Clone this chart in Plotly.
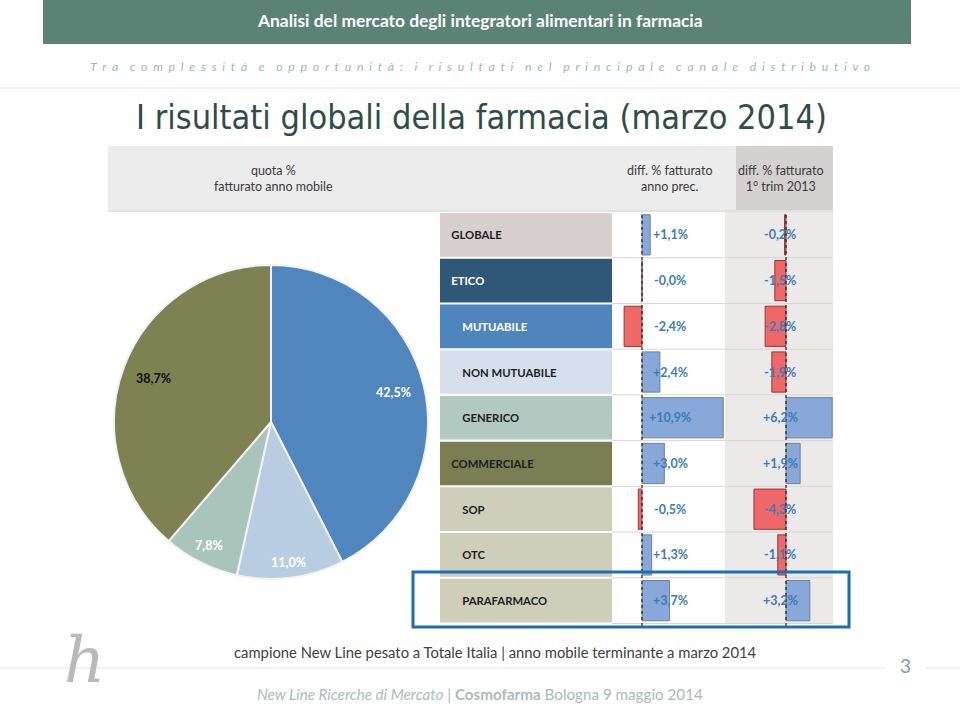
import math
import plotly.graph_objects as go

# ---------------- data ----------------
pie_labels = ["Mutuabile", "Non mutuabile", "Generico", "Commerciale"]
pie_values = [42.5, 11.0, 7.8, 38.7]

rows = ["GLOBALE", "ETICO", "MUTUABILE", "NON MUTUABILE", "GENERICO",
        "COMMERCIALE", "SOP", "OTC", "PARAFARMACO"]
row_level = [0, 0, 1, 1, 1, 0, 1, 1, 1]
diff_anno_prec = [1.1, -0.0, -2.4, 2.4, 10.9, 3.0, -0.5, 1.3, 3.7]
diff_trim = [-0.2, -1.5, -2.8, -1.9, 6.2, 1.9, -4.3, -1.1, 3.2]

header_col1 = "quota %<br>fatturato anno mobile"
header_col2 = "diff. % fatturato<br>anno prec."
header_col3 = "diff. % fatturato<br>1° trim 2013"

top_title = "Analisi del mercato degli integratori alimentari in farmacia"
subtitle = "Tra complessità e opportunità: i risultati nel principale canale distributivo"
main_title = "I risultati globali della farmacia (marzo 2014)"
note = "campione New Line pesato a Totale Italia | anno mobile terminante a marzo 2014"
page_no = "3"

# ---------------- styles ----------------
W, H = 960, 710
def px(x):
    return x / W
def py(y):
    return 1 - y / H

pie_colors = ["#4f86bd", "#b9cde2", "#a9c5bb", "#7e8152"]
pie_text_colors = ["white", "white", "white", "#111111"]
pie_label_r = [0.80, 0.90, 0.88, 0.80]

cell_colors = ["#d7d0cf", "#2f5878", "#4e86bc", "#d6e0ec", "#b1c9c1",
               "#7b7d53", "#cfcfb9", "#cfcfb9", "#cfcfb9"]
cell_text_colors = ["#1e1e1e", "white", "white", "#1e1e1e", "#1e1e1e",
                    "#1e1e1e", "#1e1e1e", "#1e1e1e", "#1e1e1e"]
POS_FILL, POS_LINE = "#87a8d8", "#6f8098"
NEG_FILL, NEG_LINE = "#f06767", "#943838"
VAL_COLOR = "#3c7cb6"

NARROW = "DejaVu Sans Condensed, Liberation Sans Narrow, sans-serif"
BODY = "Lato, Open Sans, sans-serif"

TOP, BOT = 212, 624          # table rows (pixels)
SCALE = 7.45                 # pixels per percentage point
C1 = (440, 612)              # label column
C2 = (612, 725, 642)         # anno prec column, zero position
C3 = (725, 833, 786)         # 1° trim column, zero position


def fmt(v):
    return f"{v:+.1f}%".replace(".", ",")


def note_at(x, y, text, **font):
    return dict(xref="paper", yref="paper", x=px(x), y=py(y), text=text, showarrow=False,
                xanchor="center", yanchor="middle", font=font)


fig = go.Figure()

# pie
PIE_X, PIE_Y, PIE_R = 271, 422, 157
fig.add_trace(go.Pie(
    labels=pie_labels, values=pie_values, sort=False, direction="clockwise",
    rotation=0, textinfo="none", hoverinfo="label+percent",
    marker=dict(colors=pie_colors, line=dict(color="#f2f2f2", width=2)),
    domain=dict(x=[px(PIE_X - PIE_R), px(PIE_X + PIE_R)],
                y=[py(PIE_Y + PIE_R), py(PIE_Y - PIE_R)]),
    showlegend=False,
))

# label cells
pad = ["\u00a0" * 3 if lv == 0 else "\u00a0" * 7 for lv in row_level]
fig.add_trace(go.Bar(
    y=rows, x=[1] * len(rows), orientation="h", xaxis="x", yaxis="y",
    width=0.955, marker=dict(color=cell_colors, line=dict(width=0)),
    text=[p + r for p, r in zip(pad, rows)], textposition="inside",
    insidetextanchor="start", constraintext="none", textangle=0,
    textfont=dict(family=BODY, size=11.3, color=cell_text_colors, weight="bold"),
    hoverinfo="skip", showlegend=False,
))

for vals, xa in ((diff_anno_prec, "x2"), (diff_trim, "x3")):
    fig.add_trace(go.Bar(
        y=rows, x=vals, orientation="h", xaxis=xa, yaxis="y", width=0.88,
        marker=dict(color=[POS_FILL if v > 0 else NEG_FILL for v in vals],
                    line=dict(color=[POS_LINE if v > 0 else NEG_LINE for v in vals],
                              width=1)),
        hovertemplate="%{y}: %{x:+.1f}%<extra></extra>", showlegend=False,
    ))

shapes = []
annotations = []

# header bar
shapes.append(dict(type="rect", xref="paper", yref="paper", x0=px(43), x1=px(911),
                   y0=py(44), y1=py(0), fillcolor="#5a8275", line=dict(width=0), layer="below"))
annotations.append(note_at(480, 21, top_title, family=BODY, size=17.4, color="white", weight="bold"))

# subtitle, spaced
nb = "\u00a0"
spaced = (nb * 4).join((nb * 2).join(w) for w in subtitle.split(" "))
annotations.append(note_at(480, 67, "<i>" + spaced + "</i>", family=BODY, size=12.3, color="#a3b5b0"))
shapes.append(dict(type="line", xref="paper", yref="paper", x0=0, x1=1, y0=py(88), y1=py(88),
                   line=dict(color="#e4e4e4", width=1)))

annotations.append(note_at(481, 117, main_title, family=NARROW, size=34, color="#2f4d48"))

# header band
shapes.append(dict(type="rect", xref="paper", yref="paper", x0=px(108), x1=px(833),
                   y0=py(210), y1=py(146), fillcolor="#ececec", line=dict(width=0), layer="below"))
shapes.append(dict(type="rect", xref="paper", yref="paper", x0=px(736), x1=px(833),
                   y0=py(210), y1=py(146), fillcolor="#d5d1d1", line=dict(width=0), layer="below"))
shapes.append(dict(type="line", xref="paper", yref="paper", x0=px(108), x1=px(833),
                   y0=py(211), y1=py(211), line=dict(color="#c4c4c4", width=1)))
for txt, xc in ((header_col1, 273), (header_col2, 670), (header_col3, 781)):
    annotations.append(note_at(xc, 178, txt, family=BODY, size=12.5, color="#3a3a3a"))

# column 3 background
shapes.append(dict(type="rect", xref="x3 domain", yref="paper", x0=0, x1=1,
                   y0=py(BOT), y1=py(TOP), fillcolor="#ece9e9", line=dict(width=0), layer="below"))
# row separators
for i in range(1, len(rows) + 1):
    shapes.append(dict(type="line", xref="paper", yref="y", x0=px(C2[0]), x1=px(C3[1]),
                       y0=i - 0.5, y1=i - 0.5, line=dict(color="#d6d6d6", width=1), layer="below"))
# zero lines
for xa in ("x2", "x3"):
    shapes.append(dict(type="line", xref=xa, yref="paper", x0=0, x1=0, y0=py(BOT + 2), y1=py(TOP),
                       line=dict(color="#2a2a2a", width=1.3, dash="dot"), layer="above"))

# value labels
for vals, xa, col in ((diff_anno_prec, "x2 domain", C2), (diff_trim, "x3 domain", C3)):
    xc = 670 if xa.startswith("x2") else 780
    for r, v in zip(rows, vals):
        annotations.append(dict(xref=xa, yref="y", x=(xc - col[0]) / (col[1] - col[0]), y=r,
                                text=fmt(v), showarrow=False, xanchor="center", yanchor="middle",
                                font=dict(family=BODY, size=12.5, color=VAL_COLOR, weight="bold")))

# pie labels from cumulative shares
total = sum(pie_values)
cum = 0.0
for v, c, f in zip(pie_values, pie_text_colors, pie_label_r):
    mid = (cum + v / 2) / total * 2 * math.pi
    cum += v
    lx = PIE_X + PIE_R * f * math.sin(mid)
    ly = PIE_Y - PIE_R * f * math.cos(mid)
    annotations.append(note_at(lx, ly, f"{v:.1f}%".replace(".", ","),
                               family=BODY, size=12.5, color=c, weight="bold"))

# highlight box
shapes.append(dict(type="rect", xref="paper", yref="paper", x0=px(413), x1=px(849),
                   y0=py(627), y1=py(572), line=dict(color="#1d6cb4", width=3), layer="above"))

# footer
annotations.append(note_at(495, 652, note, family=BODY, size=14.8, color="#404040"))
shapes.append(dict(type="line", xref="paper", yref="paper", x0=0, x1=px(885), y0=py(668), y1=py(668),
                   line=dict(color="#e6e6e6", width=1)))
shapes.append(dict(type="line", xref="paper", yref="paper", x0=px(925), x1=1, y0=py(668), y1=py(668),
                   line=dict(color="#e6e6e6", width=1)))
annotations.append(note_at(905, 665, page_no, family=BODY, size=19, color="#79a49b"))
annotations.append(note_at(480, 694,
                           "<i>New Line Ricerche di Mercato</i> | <b>Cosmofarma</b> Bologna 9 maggio 2014",
                           family=BODY, size=15.2, color="#a8bcb7"))
annotations.append(note_at(84, 660, "<i>h</i>", family="DejaVu Serif", size=64, color="#b9b9b9"))

ydom = [py(BOT), py(TOP)]
fig.update_layout(
    width=W, height=H, margin=dict(l=0, r=0, t=0, b=0),
    paper_bgcolor="white", plot_bgcolor="rgba(0,0,0,0)",
    barmode="overlay", showlegend=False,
    xaxis=dict(domain=[px(C1[0]), px(C1[1])], range=[0, 1], visible=False, fixedrange=True),
    xaxis2=dict(domain=[px(C2[0]), px(C2[1])], anchor="y", visible=False,
                range=[(C2[0] - C2[2]) / SCALE, (C2[1] - C2[2]) / SCALE]),
    xaxis3=dict(domain=[px(C3[0]), px(C3[1])], anchor="y", visible=False,
                range=[(C3[0] - C3[2]) / SCALE, (C3[1] - C3[2]) / SCALE]),
    yaxis=dict(domain=ydom, type="category", categoryarray=rows, autorange="reversed",
               visible=False),
    shapes=shapes, annotations=annotations,
)

fig.write_html("out.html")
